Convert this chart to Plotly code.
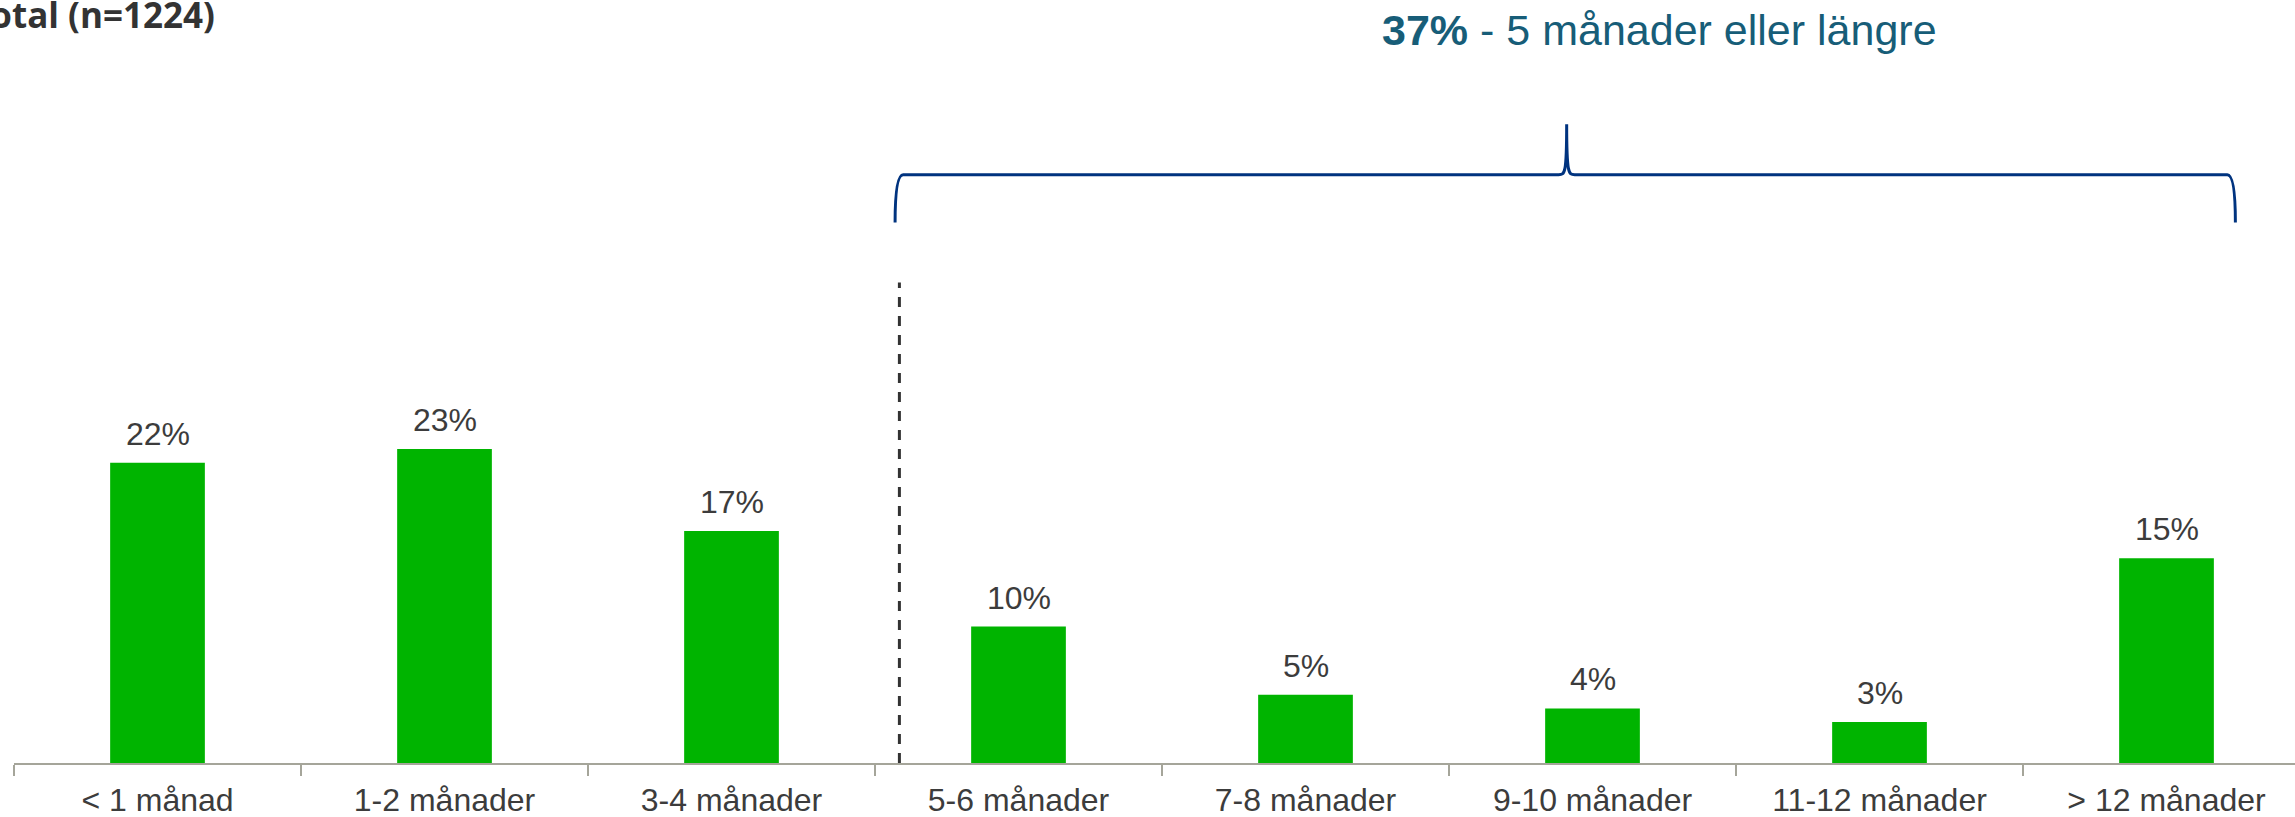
import plotly.graph_objects as go

# Data
kategorier = ["< 1 månad", "1-2 månader", "3-4 månader", "5-6 månader",
              "7-8 månader", "9-10 månader", "11-12 månader", "> 12 månader"]
andelar = [22, 23, 17, 10, 5, 4, 3, 15]
titel = "Total (n=1224)"
n_kort = 3  # the first three categories are shorter than 5 months

andel_lang = sum(andelar[n_kort:])

# Axis ranges (pixels per category / per percent picked to match the layout)
x_range = [-0.5, -0.5 + 2281 / 287]
y_range = [0, 763 / 13.65]

def px(x):
    return (x - x_range[0]) / (x_range[1] - x_range[0])

def py(y):
    return (y - y_range[0]) / (y_range[1] - y_range[0])

def py_pix(pix):
    # pixel row from the top of the page -> paper y
    return (763 - pix) / 763

fig = go.Figure(go.Bar(
    x=kategorier,
    y=andelar,
    width=0.33,
    marker=dict(color="#00B400", line=dict(width=0)),
    hoverinfo="skip",
))

# Value labels above bars
for k, v in zip(kategorier, andelar):
    fig.add_annotation(x=k, y=v, text=f"{v}%", showarrow=False,
                       yanchor="middle", yshift=29,
                       font=dict(size=32, color="#3C3C3C"))

# Dashed separator between short and long durations
fig.add_shape(type="line", xref="x", yref="y",
              x0=n_kort - 0.415, x1=n_kort - 0.415, y0=0, y1=35.2,
              line=dict(color="#333333", width=3, dash="10px,9px"))

# Brace over the long-duration categories
xl, xr, xp = px(n_kort - 0.43), px(len(kategorier) - 0.76), px(4.91)
yb, ym, yt = py(39.6), py(43.1), py(46.8)
d = 0.028 / (x_range[1] - x_range[0])
brace = (f"M {xl},{yb} Q {xl},{ym} {xl + d},{ym} "
         f"L {xp - d},{ym} C {xp - d / 4},{ym} {xp},{ym} {xp},{yt} "
         f"C {xp},{ym} {xp + d / 4},{ym} {xp + d},{ym} "
         f"L {xr - d},{ym} Q {xr},{ym} {xr},{yb}")
fig.add_shape(type="path", xref="paper", yref="paper", path=brace,
              line=dict(color="#00337F", width=3))

fig.add_annotation(xref="paper", yref="paper", x=0.7216, y=py_pix(30),
                   text=f"<b>{andel_lang}%</b> - 5 månader eller längre",
                   showarrow=False, xanchor="center", yanchor="middle",
                   font=dict(size=43, color="#175D78"))

fig.add_annotation(xref="paper", yref="paper", x=(217 - 14) / 2281, y=py_pix(14),
                   text=f"<b>{titel}</b>", showarrow=False,
                   xanchor="right", yanchor="middle",
                   font=dict(size=35, color="#333333", family="Open Sans"))

fig.update_layout(
    width=2295, height=817,
    margin=dict(l=14, r=0, t=0, b=54),
    paper_bgcolor="white", plot_bgcolor="white",
    font=dict(family="Arial, Liberation Sans, sans-serif", color="#3C3C3C"),
    showlegend=False,
    xaxis=dict(type="category", range=x_range, tickson="boundaries",
               ticks="outside", ticklen=11, tickwidth=2, tickcolor="#A5A59A",
               ticklabelstandoff=8,
               showline=True, linecolor="#A5A59A", linewidth=2,
               showgrid=False, tickfont=dict(size=32, color="#3C3C3C")),
    yaxis=dict(range=y_range, visible=False, showgrid=False, zeroline=False),
)

fig.write_html("out.html", config={"displayModeBar": False},
               post_script="document.body.style.margin='0';")
